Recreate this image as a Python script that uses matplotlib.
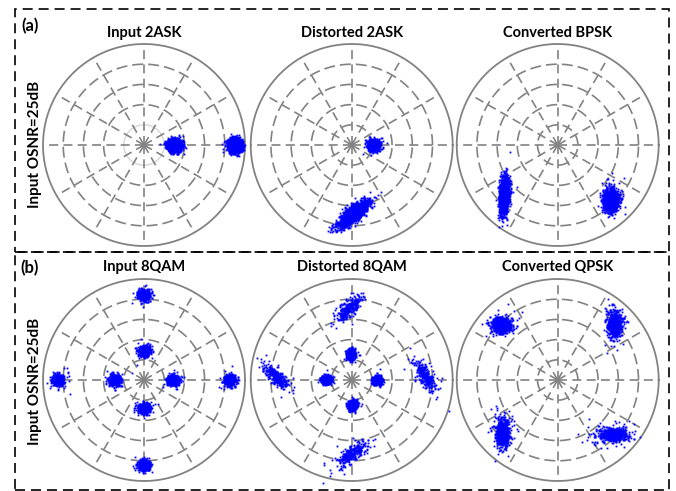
import numpy as np
import matplotlib
matplotlib.use("Agg")
import matplotlib.pyplot as plt
from matplotlib.patches import Rectangle

plt.rcParams['font.family'] = ['Lato', 'DejaVu Sans']
plt.rcParams['lines.scale_dashes'] = False

# ---------------- data ----------------
row_labels = ["(a)", "(b)"]
row_ylabel = "Input OSNR=25dB"
titles = ["Input 2ASK", "Distorted 2ASK", "Converted BPSK",
          "Input 8QAM", "Distorted 8QAM", "Converted QPSK"]

# cluster centres: radius (outer ring = 1), angle (deg)
# spreads: sigma along major / minor axis, orientation of major axis (deg), point count,
# fraction of loosely scattered points
p1_r = [0.30, 0.90]
p1_th = [0, 0]
p1_smaj = [0.032, 0.034]
p1_smin = [0.030, 0.032]
p1_ori = [0, 90]
p1_n = [1500, 1500]
p1_tail = [0.02, 0.02]

p2_r = [0.22, 0.68]
p2_th = [0, -88.7]
p2_smaj = [0.027, 0.09]
p2_smin = [0.025, 0.030]
p2_ori = [0, 40]
p2_n = [1200, 1800]
p2_tail = [0.02, 0.03]

p3_r = [0.726, 0.756]
p3_th = [223, -46]
p3_smaj = [0.09, 0.055]
p3_smin = [0.022, 0.036]
p3_ori = [86, 90]
p3_n = [1600, 1500]
p3_tail = [0.03, 0.03]

p4_r = [0.845, 0.285, 0.85, 0.29, 0.29, 0.85, 0.28, 0.845]
p4_th = [90, 90, 180, 180, 0, 0, -90, -90]
p4_smaj = [0.030] * 8
p4_smin = [0.027] * 8
p4_ori = [0] * 8
p4_n = [450] * 8
p4_tail = [0.05] * 8

p5_r = [0.71, 0.25, 0.745, 0.25, 0.255, 0.73, 0.25, 0.73]
p5_th = [92.6, 92, 177.5, 180, 0, 2.6, -88, -90]
p5_smaj = [0.08, 0.026, 0.08, 0.026, 0.026, 0.08, 0.026, 0.08]
p5_smin = [0.032, 0.022, 0.03, 0.022, 0.022, 0.032, 0.022, 0.032]
p5_ori = [45, 90, -43, 0, 0, -57, 90, 37]
p5_n = [300, 400, 300, 400, 400, 300, 400, 300]
p5_tail = [0.1, 0.03, 0.1, 0.03, 0.03, 0.1, 0.03, 0.1]

p6_r = [0.78, 0.79, 0.76, 0.77]
p6_th = [135.5, 44.8, 224, -44.3]
p6_smaj = [0.052, 0.062, 0.068, 0.07]
p6_smin = [0.036, 0.034, 0.036, 0.033]
p6_ori = [0, 90, 90, 0]
p6_n = [650, 650, 650, 650]
p6_tail = [0.12, 0.12, 0.12, 0.12]

panels = [
    (p1_r, p1_th, p1_smaj, p1_smin, p1_ori, p1_n, p1_tail),
    (p2_r, p2_th, p2_smaj, p2_smin, p2_ori, p2_n, p2_tail),
    (p3_r, p3_th, p3_smaj, p3_smin, p3_ori, p3_n, p3_tail),
    (p4_r, p4_th, p4_smaj, p4_smin, p4_ori, p4_n, p4_tail),
    (p5_r, p5_th, p5_smaj, p5_smin, p5_ori, p5_n, p5_tail),
    (p6_r, p6_th, p6_smaj, p6_smin, p6_ori, p6_n, p6_tail),
]

ring_r = [0.2, 0.4, 0.6, 0.8]
spoke_deg = np.arange(0, 360, 30)

# ---------------- layout ----------------
W, H = 676, 491
fig = plt.figure(figsize=(W / 100, H / 100), dpi=100)

cx_px = [144, 351.7, 557.7]
cy_px = [145, 380]
title_y_px = [33, 267]
R_px = 101
lim = 1.06
side = 2 * lim * R_px

grid_col = '#828282'
ring_dash = (7.9, 3.6)
spoke_dash = (6.5, 3.8)
rng = np.random.default_rng(11)

for k, (rs, ths, smaj, smin, ori, ns, tails) in enumerate(panels):
    row, col = divmod(k, 3)
    cx, cy = cx_px[col], cy_px[row]
    ax = fig.add_axes([(cx - side / 2) / W, 1 - (cy + side / 2) / H, side / W, side / H])
    ax.set_xlim(-lim, lim)
    ax.set_ylim(-lim, lim)
    ax.set_aspect('equal')
    ax.axis('off')

    t = np.linspace(0, 2 * np.pi, 400)
    for i, rr in enumerate(ring_r):
        if k == 0 and i == 0:
            ax.plot(rr * np.cos(t), rr * np.sin(t), color='#d6d6d6', lw=1.0, zorder=1)
        else:
            ax.plot(rr * np.cos(t), rr * np.sin(t), color=grid_col, lw=1.2,
                    dashes=ring_dash, zorder=1)
    ax.plot(np.cos(t), np.sin(t), color=grid_col, lw=1.3, zorder=1)
    for a in np.deg2rad(spoke_deg):
        ax.plot([0, np.cos(a)], [0, np.sin(a)], color=grid_col, lw=1.2,
                dashes=spoke_dash, zorder=1)

    for r0, th0, sa, sb, o, n, tf in zip(rs, ths, smaj, smin, ori, ns, tails):
        c = r0 * np.exp(1j * np.deg2rad(th0))
        scale = np.where(rng.random(n) < tf, 1.8, 1.0)
        u = rng.standard_normal(n) * sa * scale
        v = rng.standard_normal(n) * sb * scale
        rot = np.exp(1j * np.deg2rad(o))
        z = c + (u + 1j * v) * rot
        ax.plot(z.real, z.imag, 's', ms=1.3, mew=0, color='#0000ff', zorder=3)

    ax.text(0, (cy - title_y_px[row]) / R_px, titles[k], ha='center', va='center',
            fontsize=10.5, fontweight='bold')

# row labels and y labels
for row in range(2):
    y0 = [26, 268][row]
    fig.text(30 / W, 1 - y0 / H, row_labels[row], ha='center', va='center',
             fontsize=12, fontweight='bold')
    fig.text(35 / W, 1 - [144, 381][row] / H, row_ylabel, ha='center', va='center',
             rotation=90, fontsize=11, fontweight='bold')

# dashed boxes
boxes = [(15, 9.5, 669, 251.5), (15, 251.5, 669, 490)]
for (x0, y0, x1, y1) in boxes:
    rect = Rectangle((x0 / W, 1 - y1 / H), (x1 - x0) / W, (y1 - y0) / H,
                     transform=fig.transFigure, fill=False, edgecolor='black',
                     lw=1.2, linestyle=(0, (7.2, 4.3)))
    fig.add_artist(rect)

fig.savefig('out.png', dpi=100)
